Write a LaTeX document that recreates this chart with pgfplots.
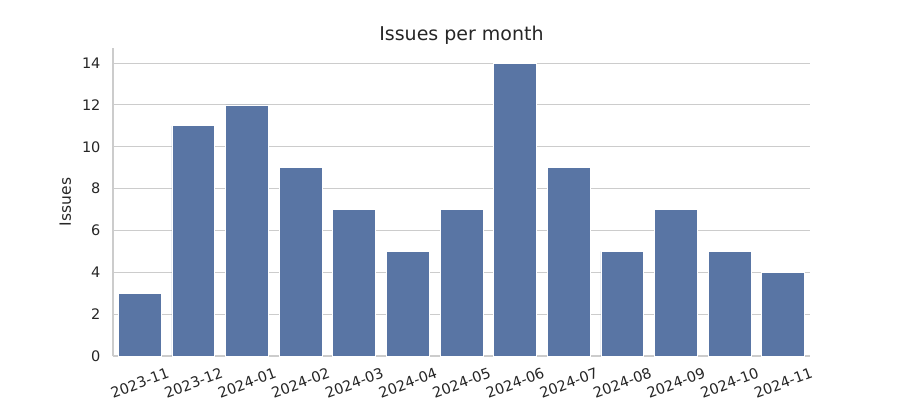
\documentclass[border=0pt]{standalone}
\usepackage{pgfplots}
\pgfplotsset{compat=1.18}
\usepackage{fontspec}
\setmainfont{DejaVu Sans}
\definecolor{barblue}{HTML}{5975A4}
\definecolor{gridgray}{HTML}{CCCCCC}
\definecolor{txt}{HTML}{262626}
\begin{document}
\begin{tikzpicture}[x=1pt,y=1pt]
\path[use as bounding box] (-113,-44) rectangle (787,356);
\begin{axis}[
  at={(0,0)}, anchor=south west,
  width=697pt, height=308pt, scale only axis,
  xmin=-0.5, xmax=12.5, ymin=0, ymax=14.72,
  xtick={0,...,12},
  xticklabels={2023-11,2023-12,2024-01,2024-02,2024-03,2024-04,2024-05,2024-06,2024-07,2024-08,2024-09,2024-10,2024-11},
  ytick={0,2,4,6,8,10,12,14},
  major tick length=0pt,
  ymajorgrids, grid style={gridgray, line width=1pt},
  axis lines*=left,
  axis line style={gridgray, line width=1.7pt},
  separate axis lines,
  x axis line style={-}, y axis line style={-},
  /pgf/number format/assume math mode=true,
  tick label style={font=\fontsize{14.5}{16}\selectfont, text=txt},
  xticklabel style={yshift=-27pt, rotate=20, anchor=center},
  yticklabel style={xshift=-9pt},
  ylabel={Issues},
  ylabel style={font=\fontsize{15.5}{18}\selectfont, text=txt, yshift=4pt},
  title={Issues per month},
  title style={font=\fontsize{19}{22}\selectfont, text=txt, yshift=-6pt},
  clip=false,
]
\addplot[ybar, bar width=0.8, fill=barblue, draw=white, line width=0.8pt, bar shift=0pt] coordinates {
(0,3) (1,11) (2,12) (3,9) (4,7) (5,5) (6,7) (7,14) (8,9) (9,5) (10,7) (11,5) (12,4)
};
\end{axis}
\end{tikzpicture}
\end{document}
